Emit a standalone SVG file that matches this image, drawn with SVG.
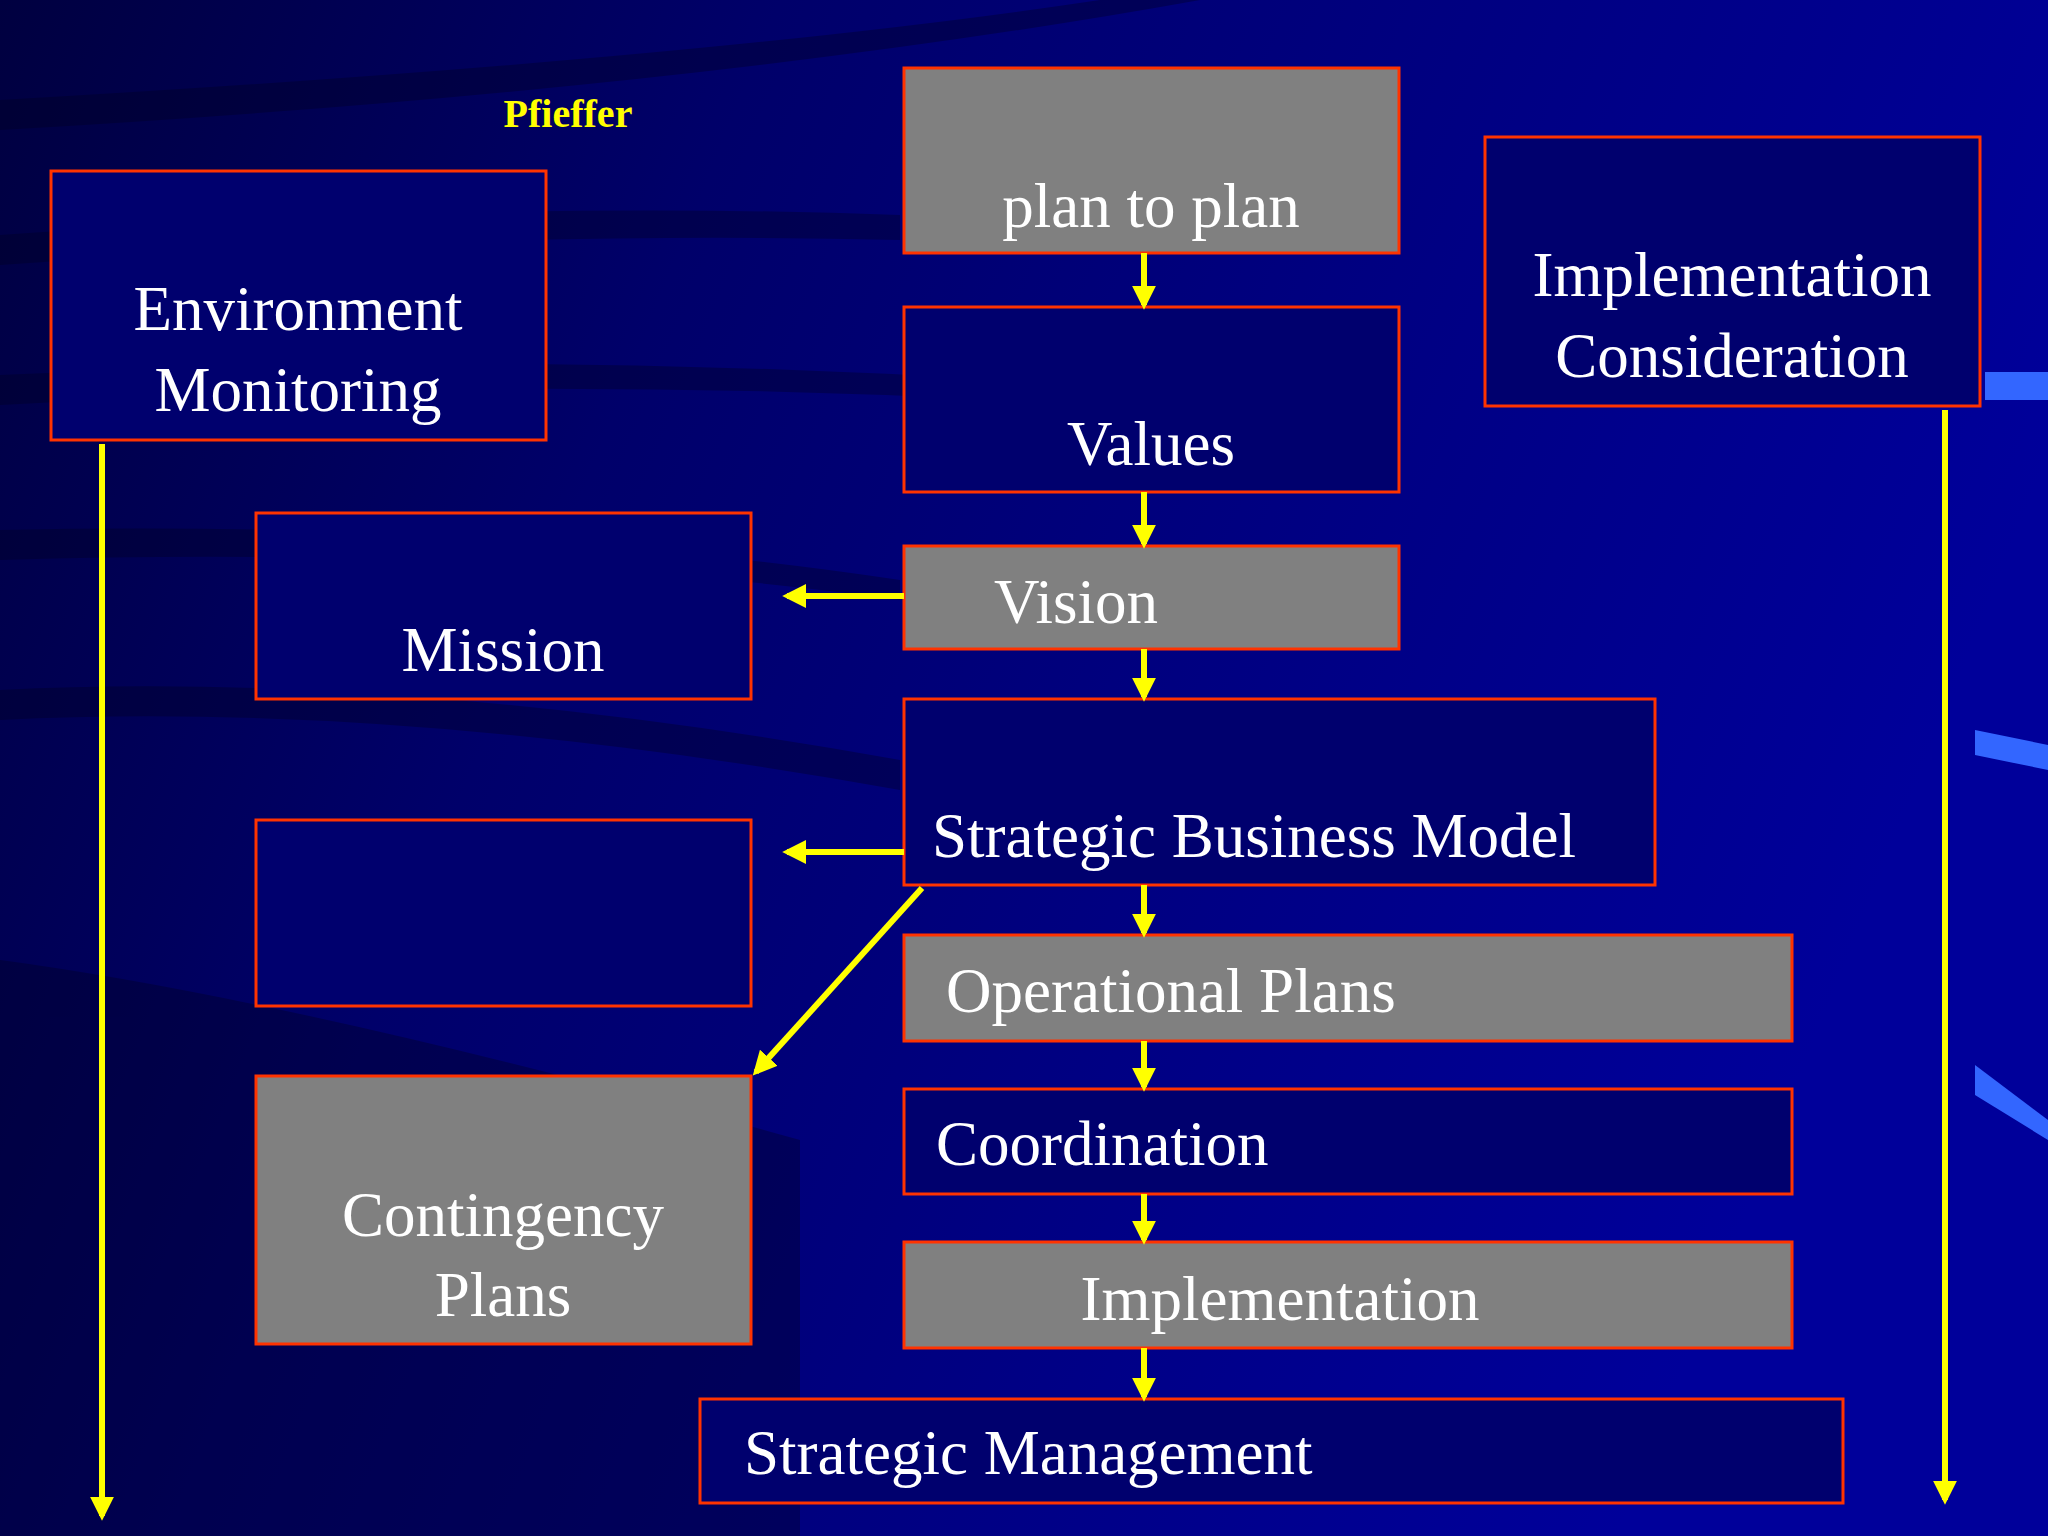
<svg xmlns="http://www.w3.org/2000/svg" width="2048" height="1536" viewBox="0 0 2048 1536">
<defs>
<linearGradient id="bg" x1="0" y1="0" x2="1" y2="0.3">
<stop offset="0" stop-color="#000040"/>
<stop offset="0.35" stop-color="#00006a"/>
<stop offset="1" stop-color="#00009a"/>
</linearGradient>
<marker id="ah" viewBox="0 0 10 10" refX="8" refY="5" markerWidth="4" markerHeight="4" orient="auto" markerUnits="strokeWidth">
<path d="M0,0 L10,5 L0,10 z" fill="#ffff00"/>
</marker>
<style>
.box{fill:#00006e;stroke:#ff3300;stroke-width:3}
.gray{fill:#808080;stroke:#ff3300;stroke-width:3}
.t{font-family:"Liberation Serif",serif;font-size:63px;fill:#ffffff}
.c{stroke:#ffff00;stroke-width:6;fill:none;marker-end:url(#ah)}
</style>
</defs>
<rect width="2048" height="1536" fill="url(#bg)"/>
<g opacity="0.35" fill="#000020">
<path d="M0,100 Q700,60 1100,0 L1200,0 Q700,90 0,130z"/>
<path d="M0,235 Q500,200 900,215 L900,240 Q500,230 0,265z"/>
<path d="M0,375 Q500,350 1000,380 L1000,400 Q500,375 0,405z"/>
<path d="M0,530 Q500,520 900,580 L900,600 Q500,545 0,560z"/>
<path d="M0,690 Q400,670 900,760 L900,790 Q400,700 0,720z"/>
<path d="M0,960 Q300,1000 800,1140 L800,1536 L0,1536z"/>
</g>
<path d="M1985,372 L2048,372 L2048,400 L1985,400z" fill="#3366ff"/>
<path d="M1975,730 L2048,745 L2048,770 L1975,755z" fill="#3366ff"/>
<path d="M1975,1065 L2048,1120 L2048,1140 L1975,1095z" fill="#3366ff"/>
<text x="568" y="127" font-family="Liberation Serif,serif" font-weight="bold" font-size="40" fill="#ffff00" text-anchor="middle">Pfieffer</text>
<g id="env"><rect class="box" x="51" y="171" width="495" height="269"/><text class="t" x="298" y="330" text-anchor="middle">Environment</text><text class="t" x="298" y="411" text-anchor="middle">Monitoring</text></g>
<g id="plan"><rect class="gray" x="904" y="68" width="495" height="185"/><text class="t" x="1151" y="227" text-anchor="middle">plan to plan</text></g>
<g id="values"><rect class="box" x="904" y="307" width="495" height="185"/><text class="t" x="1151" y="465" text-anchor="middle">Values</text></g>
<g id="vision"><rect class="gray" x="904" y="546" width="495" height="103"/><text class="t" x="1076" y="623" text-anchor="middle">Vision</text></g>
<g id="mission"><rect class="box" x="256" y="513" width="495" height="186"/><text class="t" x="503" y="671" text-anchor="middle">Mission</text></g>
<g id="empty"><rect class="box" x="256" y="820" width="495" height="186"/></g>
<g id="contingency"><rect class="gray" x="256" y="1076" width="495" height="268"/><text class="t" x="503" y="1236" text-anchor="middle">Contingency</text><text class="t" x="503" y="1316" text-anchor="middle">Plans</text></g>
<g id="sbm"><rect class="box" x="904" y="699" width="751" height="186"/><text class="t" x="932" y="857">Strategic Business Model</text></g>
<g id="op"><rect class="gray" x="904" y="935" width="888" height="106"/><text class="t" x="946" y="1012">Operational Plans</text></g>
<g id="coord"><rect class="box" x="904" y="1089" width="888" height="105"/><text class="t" x="936" y="1165">Coordination</text></g>
<g id="impl"><rect class="gray" x="904" y="1242" width="888" height="106"/><text class="t" x="1280" y="1320" text-anchor="middle">Implementation</text></g>
<g id="sm"><rect class="box" x="700" y="1399" width="1143" height="104"/><text class="t" x="744" y="1474">Strategic Management</text></g>
<g id="ic"><rect class="box" x="1485" y="137" width="495" height="269"/><text class="t" x="1732" y="296" text-anchor="middle">Implementation</text><text class="t" x="1732" y="377" text-anchor="middle">Consideration</text></g>
<g id="connectors">
<line class="c" x1="1144" y1="253" x2="1144" y2="305"/>
<line class="c" x1="1144" y1="492" x2="1144" y2="544"/>
<line class="c" x1="1144" y1="649" x2="1144" y2="697"/>
<line class="c" x1="1144" y1="885" x2="1144" y2="933"/>
<line class="c" x1="1144" y1="1041" x2="1144" y2="1087"/>
<line class="c" x1="1144" y1="1194" x2="1144" y2="1240"/>
<line class="c" x1="1144" y1="1348" x2="1144" y2="1397"/>
<line class="c" x1="904" y1="596" x2="787" y2="596"/>
<line class="c" x1="904" y1="852" x2="787" y2="852"/>
<line class="c" x1="922" y1="888" x2="756" y2="1072"/>
<line class="c" x1="102" y1="444" x2="102" y2="1516"/>
<line class="c" x1="1945" y1="410" x2="1945" y2="1500"/>
</g>
</svg>
